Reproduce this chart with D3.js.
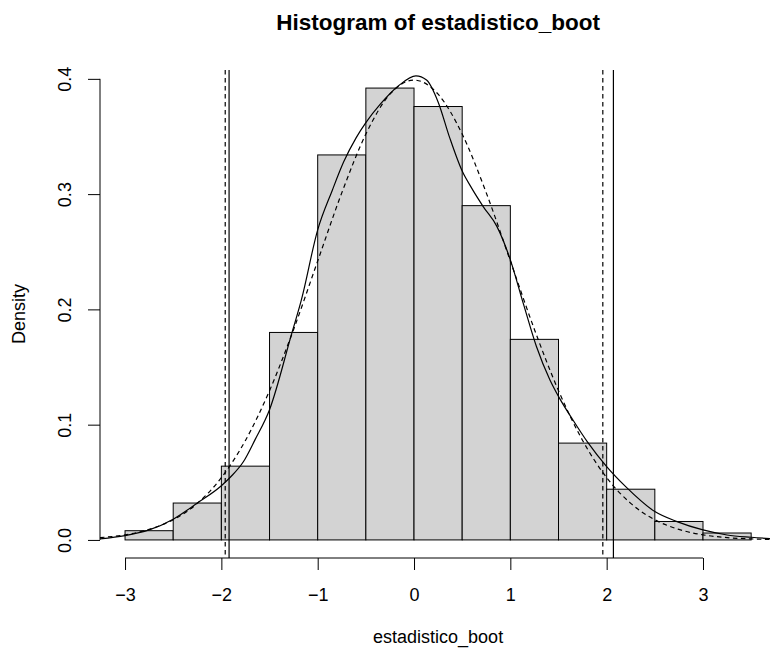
<!DOCTYPE html>
<html>
<head>
<meta charset="utf-8">
<script src="https://cdn.jsdelivr.net/npm/d3@7"></script>
<style>
  body { margin: 0; background: #fff; }
  text { font-family: "Liberation Sans", Arial, Helvetica, sans-serif; fill: #000; }
</style>
</head>
<body>
<svg id="chart" width="770" height="650"></svg>
<script>
// histogram breaks and densities (count / (n * width), n = 1000, width 0.5)
let breaks = [-3, -2.5, -2, -1.5, -1, -0.5, 0, 0.5, 1, 1.5, 2, 2.5, 3, 3.5]
let densities = [0.008, 0.032, 0.064, 0.180, 0.334, 0.392, 0.376, 0.290, 0.174, 0.084, 0.044, 0.016, 0.006]

// kernel density of the bootstrap statistic (solid)
let kdeX = [-3.26, -3.0, -2.75, -2.5, -2.25, -2.0, -1.9, -1.77, -1.65, -1.5, -1.27, -1.17, -1.0, -0.85, -0.73,
  -0.6, -0.5, -0.35, -0.16, 0.02, 0.13, 0.25, 0.37, 0.5, 0.6, 0.72, 0.86, 1.0, 1.135, 1.27, 1.41, 1.51, 1.65,
  1.8, 2.0, 2.2, 2.5, 2.73, 3.0, 3.25, 3.5, 3.76]
let kdeY = [0.0009, 0.0037, 0.0087, 0.018, 0.032, 0.047, 0.055, 0.068, 0.087, 0.113, 0.179, 0.208, 0.269, 0.303, 0.328,
  0.349, 0.362, 0.378, 0.394, 0.4026, 0.399, 0.380, 0.349, 0.320, 0.305, 0.289, 0.272, 0.243, 0.205, 0.168, 0.139, 0.123, 0.104,
  0.085, 0.0636, 0.046, 0.0246, 0.0159, 0.0087, 0.0043, 0.0023, 0.0008]

// reference normal curve (dashed)
let normX = [-3.26, -3.0, -2.75, -2.5, -2.25, -2.0, -1.75, -1.5, -1.25, -1.0, -0.75, -0.5, -0.25, 0,
  0.25, 0.5, 0.75, 1.0, 1.25, 1.5, 1.75, 2.0, 2.25, 2.5, 2.75, 3.0, 3.25, 3.5, 3.76]
let normY = [0.002, 0.0044, 0.0091, 0.0175, 0.0317, 0.054, 0.0863, 0.1295, 0.1826, 0.242, 0.3011, 0.3521, 0.3867, 0.3989,
  0.3867, 0.3521, 0.3011, 0.242, 0.1826, 0.1295, 0.0863, 0.054, 0.0317, 0.0175, 0.0091, 0.0044, 0.002, 0.0009, 0.0003]

// vertical reference lines
let quantileLines = [-1.92, 2.07]
let normalLines = [-1.96, 1.96]

let xTicks = [-3, -2, -1, 0, 1, 2, 3]
let yTicks = [0, 0.1, 0.2, 0.3, 0.4]

let titleText = "Histogram of estadistico_boot"
let xLabel = "estadistico_boot"
let yLabel = "Density"

let svg = d3.select("#chart")
let plot = { left: 100, right: 776.2, top: 70, bottom: 558 }

// R style: extend the data range by 4% on each side
let xr = [breaks[0], breaks[breaks.length - 1]]
let xpad = (xr[1] - xr[0]) * 0.04
let yr = [0, d3.max(densities)]
let ypad = (yr[1] - yr[0]) * 0.04

let xScale = d3.scaleLinear()
  .domain([xr[0] - xpad, xr[1] + xpad])
  .range([plot.left, plot.right])
let yScale = d3.scaleLinear()
  .domain([yr[0] - ypad, yr[1] + ypad])
  .range([plot.bottom, plot.top])

svg.append("rect").attr("width", 770).attr("height", 650).attr("fill", "#fff")

svg.append("clipPath").attr("id", "clip")
  .append("rect")
  .attr("x", plot.left).attr("y", plot.top)
  .attr("width", plot.right - plot.left).attr("height", plot.bottom - plot.top)

// bars
let bins = densities.map((d, i) => ({ x0: breaks[i], x1: breaks[i + 1], d: d }))
svg.append("g")
  .selectAll("rect")
  .data(bins)
  .enter().append("rect")
  .attr("x", d => xScale(d.x0))
  .attr("y", d => yScale(d.d))
  .attr("width", d => xScale(d.x1) - xScale(d.x0))
  .attr("height", d => yScale(0) - yScale(d.d))
  .attr("fill", "#d3d3d3")
  .attr("stroke", "#000")
  .attr("stroke-width", 1)

let lineGen = d3.line()
  .x(d => xScale(d[0]))
  .y(d => yScale(d[1]))
  .curve(d3.curveMonotoneX)

let lines = svg.append("g").attr("clip-path", "url(#clip)")

lines.append("path")
  .datum(d3.zip(kdeX, kdeY))
  .attr("d", lineGen)
  .attr("fill", "none")
  .attr("stroke", "#000")
  .attr("stroke-width", 1.2)

lines.append("path")
  .datum(d3.zip(normX, normY))
  .attr("d", lineGen)
  .attr("fill", "none")
  .attr("stroke", "#000")
  .attr("stroke-width", 1.2)
  .attr("stroke-dasharray", "4.5,3.5")

lines.selectAll(".qline")
  .data(quantileLines)
  .enter().append("line")
  .attr("x1", d => xScale(d)).attr("x2", d => xScale(d))
  .attr("y1", plot.top).attr("y2", plot.bottom)
  .attr("stroke", "#000").attr("stroke-width", 1.2)

lines.selectAll(".nline")
  .data(normalLines)
  .enter().append("line")
  .attr("x1", d => xScale(d)).attr("x2", d => xScale(d))
  .attr("y1", plot.top).attr("y2", plot.bottom)
  .attr("stroke", "#000").attr("stroke-width", 1.2)
  .attr("stroke-dasharray", "4.5,3.5")

// x axis
let xAxis = svg.append("g")
  .attr("transform", "translate(0," + plot.bottom + ")")
  .call(d3.axisBottom(xScale).tickValues(xTicks).tickSize(12).tickFormat(d3.format("d")))
xAxis.select(".domain").remove()
xAxis.append("line")
  .attr("x1", xScale(xTicks[0])).attr("x2", xScale(xTicks[xTicks.length - 1]))
  .attr("stroke", "#000")
xAxis.selectAll("text").attr("font-size", "18px").attr("fill", "#000")
  .attr("dy", "0.71em").attr("y", 30)
xAxis.selectAll("line").attr("stroke", "#000")

// y axis
let yAxis = svg.append("g")
  .attr("transform", "translate(" + plot.left + ",0)")
  .call(d3.axisLeft(yScale).tickValues(yTicks).tickSize(12).tickFormat(d3.format(".1f")))
yAxis.select(".domain").remove()
yAxis.append("line")
  .attr("y1", yScale(yTicks[0])).attr("y2", yScale(yTicks[yTicks.length - 1]))
  .attr("stroke", "#000")
yAxis.selectAll("line").attr("stroke", "#000")
yAxis.selectAll("text")
  .attr("font-size", "18px")
  .attr("fill", "#000")
  .attr("text-anchor", "middle")
  .attr("transform", "rotate(-90)")
  .attr("x", 0)
  .attr("y", -29)
  .attr("dy", 0)

// labels
svg.append("text")
  .attr("x", (plot.left + plot.right) / 2)
  .attr("y", 30)
  .attr("text-anchor", "middle")
  .attr("font-size", "22.5px")
  .attr("font-weight", "bold")
  .text(titleText)

svg.append("text")
  .attr("x", (plot.left + plot.right) / 2)
  .attr("y", 643)
  .attr("text-anchor", "middle")
  .attr("font-size", "18px")
  .text(xLabel)

svg.append("text")
  .attr("transform", "translate(25," + (plot.top + plot.bottom) / 2 + ") rotate(-90)")
  .attr("text-anchor", "middle")
  .attr("font-size", "18px")
  .text(yLabel)
</script>
</body>
</html>
